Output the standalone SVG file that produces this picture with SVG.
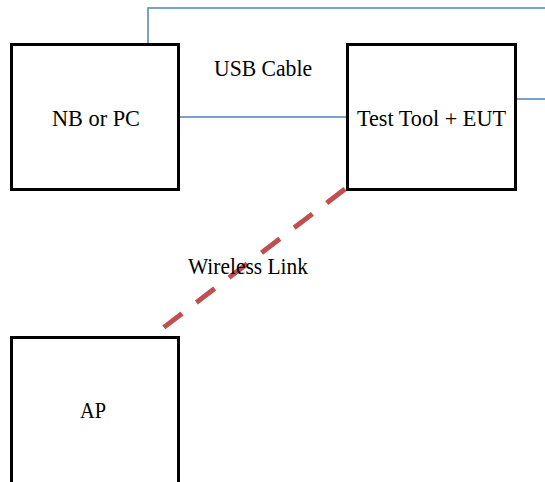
<svg xmlns="http://www.w3.org/2000/svg" width="545" height="482" viewBox="0 0 545 482">
<style>
.box{fill:#fff;stroke:#000;stroke-width:3}
.lbl{font-family:"Liberation Serif","Times New Roman",serif;font-size:23px;fill:#000;text-anchor:middle}
.usb{fill:none;stroke:#4F81BD;stroke-width:1.5}
.wl{fill:none;stroke:#C0504D;stroke-width:5;stroke-dasharray:23 18}
</style>
<rect width="545" height="482" fill="#fff"/>
<g id="connectors">
<polyline class="usb" points="148,43 148,8 545,8"/>
<line class="usb" x1="517" y1="99" x2="545" y2="99"/>
<line class="usb" x1="180" y1="117" x2="346" y2="117"/>
<line class="wl" x1="345" y1="189" x2="163" y2="328"/>
</g>
<g id="nb">
<rect class="box" x="11.5" y="44.5" width="167" height="145"/>
<text class="lbl" x="96" y="126" textLength="88" lengthAdjust="spacingAndGlyphs">NB or PC</text>
</g>
<g id="eut">
<rect class="box" x="347.5" y="44.5" width="168" height="145"/>
<text class="lbl" x="431.5" y="126" textLength="149" lengthAdjust="spacingAndGlyphs">Test Tool + EUT</text>
</g>
<g id="ap">
<rect class="box" x="11.5" y="337.5" width="167" height="160"/>
<text class="lbl" x="93" y="418" textLength="26" lengthAdjust="spacingAndGlyphs">AP</text>
</g>
<g id="labels">
<text class="lbl" x="263" y="76" textLength="98" lengthAdjust="spacingAndGlyphs">USB Cable</text>
<text class="lbl" x="248" y="274" textLength="120" lengthAdjust="spacingAndGlyphs">Wireless Link</text>
</g>
</svg>
